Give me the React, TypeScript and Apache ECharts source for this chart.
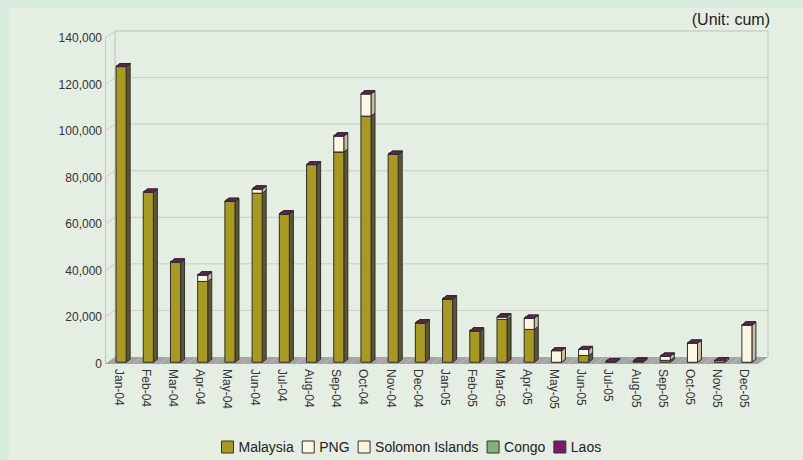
import React, { useEffect, useRef } from "react";
import * as echarts from "echarts";

const categories = [
  "Jan-04", "Feb-04", "Mar-04", "Apr-04", "May-04", "Jun-04", "Jul-04", "Aug-04",
  "Sep-04", "Oct-04", "Nov-04", "Dec-04", "Jan-05", "Feb-05", "Mar-05", "Apr-05",
  "May-05", "Jun-05", "Jul-05", "Aug-05", "Sep-05", "Oct-05", "Nov-05", "Dec-05",
];
const malaysia = [127000, 73000, 43000, 34700, 69100, 72600, 63700, 84900, 90300, 105700, 89300, 16900, 27200, 13500, 18400, 14100, 0, 2900, 300, 500, 800, 0, 0, 0];
const png = [0, 0, 0, 2800, 0, 1800, 0, 0, 6900, 9600, 0, 0, 0, 0, 1100, 4800, 5000, 2600, 0, 0, 1800, 8200, 700, 16000];
const solomonIslands = [0, 0, 0, 0, 0, 0, 0, 0, 0, 0, 0, 0, 0, 0, 0, 0, 0, 0, 0, 0, 0, 0, 0, 0];
const congo = [0, 0, 0, 0, 0, 0, 0, 0, 0, 0, 0, 0, 0, 0, 0, 0, 0, 0, 0, 0, 0, 0, 0, 0];
const laos = [0, 0, 0, 0, 0, 0, 0, 0, 0, 0, 0, 0, 0, 0, 0, 0, 0, 0, 0, 0, 0, 0, 0, 0];
const yTicks = [0, 20000, 40000, 60000, 80000, 100000, 120000, 140000];
const unitLabel = "(Unit: cum)";

const seriesDefs = [
  { name: "Malaysia", values: malaysia, front: "#A8991F", side: "#5E5633", top: "#8A7E1C" },
  { name: "PNG", values: png, front: "#FBF7E3", side: "#C8BF9C", top: "#E8E2C4" },
  { name: "Solomon Islands", values: solomonIslands, front: "#F9F3DA", side: "#C5BC96", top: "#E6DEBE" },
  { name: "Congo", values: congo, front: "#80B27A", side: "#557A50", top: "#6E9C68" },
  { name: "Laos", values: laos, front: "#7B1A6C", side: "#4E1045", top: "#6C1B5E" },
];

// 3D geometry
const WALL_DX = 10;
const WALL_DY = 7;
const BAR_OX = 2.5;
const BAR_OY = -1.75;
const BAR_DX = 4;
const BAR_DY = 3;
const FONT = "'Liberation Sans', Arial, sans-serif";

export default function App() {
  const ref = useRef<HTMLDivElement>(null);
  useEffect(() => {
    if (!ref.current) return;
    const chart = echarts.init(ref.current, null, { renderer: "svg" });

    const wallSeries: any = {
      type: "custom",
      name: "_wall",
      silent: true,
      z: 1,
      data: yTicks.map((v) => [0, v]),
      encode: { x: 0, y: 1 },
      renderItem: (params: any, api: any) => {
        const cs = params.coordSys;
        const v = api.value(1);
        const y = api.coord([0, v])[1];
        const children: any[] = [];
        const lineColor = "#C9CDC5";
        if (v === 0) {
          children.push({
            type: "polygon",
            shape: {
              points: [
                [cs.x, y],
                [cs.x + cs.width, y],
                [cs.x + cs.width + WALL_DX, y - WALL_DY],
                [cs.x + WALL_DX, y - WALL_DY],
              ],
            },
            style: { fill: "#A4A4A4", stroke: null },
          });
          const bw = cs.width / categories.length;
          for (let k = 1; k < categories.length; k++) {
            const x = cs.x + k * bw;
            children.push({
              type: "line",
              shape: { x1: x, y1: y, x2: x + WALL_DX, y2: y - WALL_DY },
              style: { stroke: "#B9B9B9", lineWidth: 1 },
            });
          }
          const yTop = api.coord([0, yTicks[yTicks.length - 1]])[1];
          children.push({
            type: "line",
            shape: { x1: cs.x + WALL_DX, y1: yTop - WALL_DY, x2: cs.x + WALL_DX, y2: y - WALL_DY },
            style: { stroke: "#BDC1BB", lineWidth: 1 },
          });
          children.push({
            type: "line",
            shape: {
              x1: cs.x + cs.width + WALL_DX, y1: yTop - WALL_DY,
              x2: cs.x + cs.width + WALL_DX, y2: y - WALL_DY,
            },
            style: { stroke: "#BDC1BB", lineWidth: 1 },
          });
        } else {
          children.push({
            type: "line",
            shape: { x1: cs.x, y1: y, x2: cs.x + WALL_DX, y2: y - WALL_DY },
            style: { stroke: lineColor, lineWidth: 1 },
          });
          children.push({
            type: "line",
            shape: { x1: cs.x + WALL_DX, y1: y - WALL_DY, x2: cs.x + cs.width + WALL_DX, y2: y - WALL_DY },
            style: { stroke: v === yTicks[yTicks.length - 1] ? "#BDC1BB" : lineColor, lineWidth: 1 },
          });
        }
        return { type: "group", children };
      },
    };

    const bases = categories.map(() => 0);
    const barSeries = seriesDefs.map((def, si) => {
      const data = def.values.map((v, i) => {
        const item = [i, v, bases[i]];
        bases[i] += v;
        return item;
      });
      return {
        type: "custom",
        name: def.name,
        z: 2 + si,
        itemStyle: { color: def.front, borderColor: "#333" },
        data,
        encode: { x: 0, y: 1 },
        renderItem: (params: any, api: any) => {
          const i = api.value(0);
          const v = api.value(1);
          const base = api.value(2);
          const p0 = api.coord([i, base]);
          const p1 = api.coord([i, base + v]);
          const bw = api.size([1, 0])[0];
          const w = bw * 0.37;
          const x = p0[0] - w / 2 + BAR_OX;
          const yb = p0[1] + BAR_OY;
          const yt = p1[1] + BAR_OY;
          const children: any[] = [];
          const stroke = "#2E2E2E";
          if (yb - yt > 0.2) {
            children.push({
              type: "polygon",
              shape: {
                points: [
                  [x + w, yb],
                  [x + w + BAR_DX, yb - BAR_DY],
                  [x + w + BAR_DX, yt - BAR_DY],
                  [x + w, yt],
                ],
              },
              style: { fill: def.side, stroke, lineWidth: 1 },
            });
            children.push({
              type: "rect",
              shape: { x, y: yt, width: w, height: yb - yt },
              style: { fill: def.front, stroke, lineWidth: 1 },
            });
          }
          children.push({
            type: "polygon",
            shape: {
              points: [
                [x, yt],
                [x + w, yt],
                [x + w + BAR_DX, yt - BAR_DY],
                [x + BAR_DX, yt - BAR_DY],
              ],
            },
            style: { fill: def.top, stroke, lineWidth: 1 },
          });
          return { type: "group", children };
        },
      };
    });

    chart.setOption({
      animation: false,
      backgroundColor: "#D7EBDE",
      textStyle: { fontFamily: FONT },
      graphic: [
        {
          type: "rect",
          z: -10,
          silent: true,
          shape: { x: 9, y: 8, width: 803, height: 460 },
          style: { fill: "#E4EEE3" },
        },
        {
          type: "text",
          right: 33,
          top: 11,
          style: { text: unitLabel, fill: "#222", font: `16px ${FONT}` },
        },
      ],
      grid: { left: 105, right: 45, top: 38, bottom: 96, containLabel: false },
      legend: {
        left: 216,
        top: 435,
        itemWidth: 12,
        itemHeight: 12,
        itemGap: 8,
        icon: "rect",
        textStyle: { fontSize: 14, color: "#222", fontFamily: FONT },
        data: seriesDefs.map((d) => ({
          name: d.name,
          itemStyle: { color: d.front, borderColor: "#333", borderWidth: 1 },
        })),
      },
      xAxis: {
        type: "category",
        data: categories,
        axisLine: { show: false },
        axisTick: { show: false },
        splitLine: { show: false },
        axisLabel: { rotate: -90, margin: 5, fontSize: 12, color: "#333", fontFamily: FONT, interval: 0 },
      },
      yAxis: {
        type: "value",
        min: 0,
        max: 140000,
        interval: 20000,
        axisLine: { show: true, lineStyle: { color: "#C3C7C1" } },
        axisTick: { show: false },
        splitLine: { show: false },
        axisLabel: {
          margin: 3,
          fontSize: 12,
          color: "#333",
          fontFamily: FONT,
          formatter: (v: number) => v.toLocaleString("en-US"),
        },
      },
      series: [wallSeries, ...barSeries],
    });
    return () => chart.dispose();
  }, []);
  return (
    <div
      ref={ref}
      style={{ position: "fixed", left: 0, top: 0, width: 803, height: 460 }}
    />
  );
}
